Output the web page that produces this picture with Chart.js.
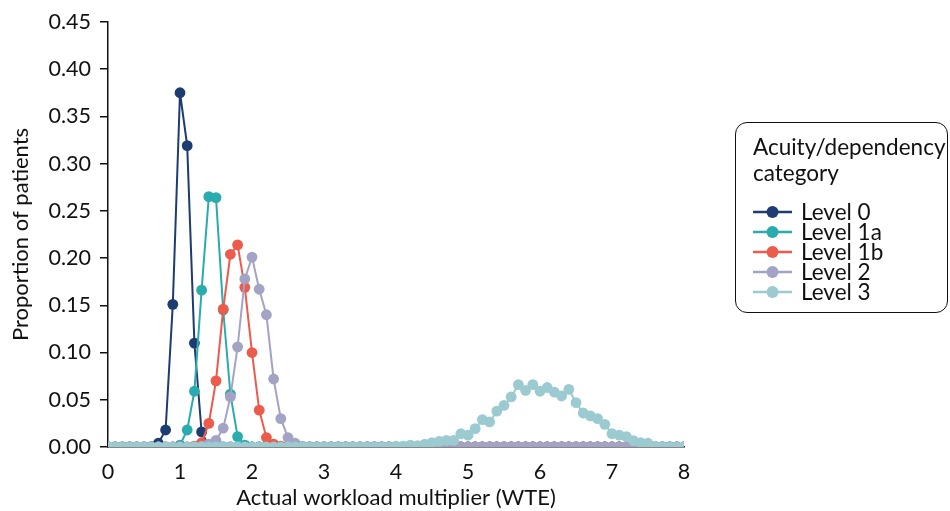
<!DOCTYPE html>
<html>
<head>
<meta charset="utf-8">
<script src="https://cdn.jsdelivr.net/npm/chart.js@4/dist/chart.umd.min.js"></script>
<style>
  html, body { margin: 0; padding: 0; background: #fff; }
  #wrap { position: relative; width: 950px; height: 511px; font-family: Lato, "DejaVu Sans", sans-serif; }
  #c { position: absolute; left: 0; top: 0; }
  #legend {
    position: absolute; left: 735px; top: 122px; width: 213px; height: 191px;
    border: 1.6px solid #111; border-radius: 12px; box-sizing: border-box;
    padding: 11px 0 0 17px; color: #111; font-size: 22.5px;
  }
  #legend .title { line-height: 26px; white-space: nowrap; }
  #legend .items { margin-top: 16px; }
  #legend .item { display: flex; align-items: center; height: 20px; line-height: 20px; white-space: nowrap; }
  #legend svg { margin-right: 9px; flex: none; }
</style>
</head>
<body>
<div id="wrap">
  <canvas id="c" width="950" height="511"></canvas>
  <div id="legend"></div>
</div>
<script>
// Categories: actual workload multiplier (WTE)
const xValues = [
  0.0, 0.1, 0.2, 0.3, 0.4, 0.5, 0.6, 0.7, 0.8, 0.9,
  1.0, 1.1, 1.2, 1.3, 1.4, 1.5, 1.6, 1.7, 1.8, 1.9,
  2.0, 2.1, 2.2, 2.3, 2.4, 2.5, 2.6, 2.7, 2.8, 2.9,
  3.0, 3.1, 3.2, 3.3, 3.4, 3.5, 3.6, 3.7, 3.8, 3.9,
  4.0, 4.1, 4.2, 4.3, 4.4, 4.5, 4.6, 4.7, 4.8, 4.9,
  5.0, 5.1, 5.2, 5.3, 5.4, 5.5, 5.6, 5.7, 5.8, 5.9,
  6.0, 6.1, 6.2, 6.3, 6.4, 6.5, 6.6, 6.7, 6.8, 6.9,
  7.0, 7.1, 7.2, 7.3, 7.4, 7.5, 7.6, 7.7, 7.8, 7.9,
  8.0
];

const level0 = [
  0, 0, 0, 0, 0, 0, 0.0005, 0.004, 0.018, 0.151,
  0.375, 0.319, 0.110, 0.016, 0.001, 0, 0, 0, 0, 0,
  0, 0, 0, 0, 0, 0, 0, 0, 0, 0,
  0, 0, 0, 0, 0, 0, 0, 0, 0, 0,
  0, 0, 0, 0, 0, 0, 0, 0, 0, 0,
  0, 0, 0, 0, 0, 0, 0, 0, 0, 0,
  0, 0, 0, 0, 0, 0, 0, 0, 0, 0,
  0, 0, 0, 0, 0, 0, 0, 0, 0, 0,
  0
];

const level1a = [
  0, 0, 0, 0, 0, 0, 0, 0, 0, 0,
  0.002, 0.018, 0.059, 0.166, 0.265, 0.264, 0.145, 0.056, 0.011, 0.002,
  0, 0, 0, 0, 0, 0, 0, 0, 0, 0,
  0, 0, 0, 0, 0, 0, 0, 0, 0, 0,
  0, 0, 0, 0, 0, 0, 0, 0, 0, 0,
  0, 0, 0, 0, 0, 0, 0, 0, 0, 0,
  0, 0, 0, 0, 0, 0, 0, 0, 0, 0,
  0, 0, 0, 0, 0, 0, 0, 0, 0, 0,
  0
];

const level1b = [
  0, 0, 0, 0, 0, 0, 0, 0, 0, 0,
  0, 0, 0.001, 0.0045, 0.025, 0.070, 0.146, 0.204, 0.214, 0.169,
  0.100, 0.039, 0.010, 0.003, 0.001, 0, 0, 0, 0, 0,
  0, 0, 0, 0, 0, 0, 0, 0, 0, 0,
  0, 0, 0, 0, 0, 0, 0, 0, 0, 0,
  0, 0, 0, 0, 0, 0, 0, 0, 0, 0,
  0, 0, 0, 0, 0, 0, 0, 0, 0, 0,
  0, 0, 0, 0, 0, 0, 0, 0, 0, 0,
  0
];

const level2 = [
  0, 0, 0, 0, 0, 0, 0, 0, 0, 0,
  0, 0, 0, 0.001, 0.003, 0.007, 0.020, 0.053, 0.106, 0.178,
  0.201, 0.167, 0.140, 0.072, 0.030, 0.010, 0.004, 0.001, 0, 0,
  0, 0, 0, 0, 0, 0, 0, 0, 0, 0,
  0, 0, 0, 0, 0, 0, 0, 0, 0, 0,
  0, 0, 0, 0, 0, 0, 0, 0, 0, 0,
  0, 0, 0, 0, 0, 0, 0, 0, 0, 0,
  0, 0, 0, 0, 0, 0, 0, 0, 0, 0,
  0
];

const level3 = [
  0, 0, 0, 0, 0, 0, 0, 0, 0, 0,
  0, 0, 0, 0, 0, 0, 0, 0, 0, 0,
  0, 0, 0, 0, 0, 0, 0, 0, 0, 0,
  0, 0, 0, 0, 0, 0, 0, 0, 0, 0,
  0.001, 0.001, 0.002, 0.0015, 0.003, 0.0045, 0.006, 0.007, 0.007, 0.014,
  0.0125, 0.0195, 0.029, 0.0265, 0.038, 0.044, 0.053, 0.066, 0.060, 0.066,
  0.059, 0.063, 0.058, 0.054, 0.061, 0.047, 0.036, 0.033, 0.030, 0.024,
  0.014, 0.0125, 0.011, 0.0066, 0.0045, 0.004, 0.001, 0, 0, 0,
  0
];

const seriesNames = ['Level 0', 'Level 1a', 'Level 1b', 'Level 2', 'Level 3'];
const seriesData = [level0, level1a, level1b, level2, level3];
const seriesColors = ['#1d3c72', '#2aabad', '#ec5b4b', '#a3a3c5', '#9bcbd1'];

const yTicks = [0, 0.05, 0.10, 0.15, 0.20, 0.25, 0.30, 0.35, 0.40, 0.45];
const xTicks = [0, 1, 2, 3, 4, 5, 6, 7, 8];

const FONT = 'Lato';
const TXT = '#111';

const datasets = seriesNames.map((name, i) => ({
  label: name,
  data: xValues.map((x, j) => ({ x: x, y: seriesData[i][j] })),
  borderColor: seriesColors[i],
  backgroundColor: seriesColors[i],
  pointBackgroundColor: seriesColors[i],
  pointBorderColor: seriesColors[i],
  borderWidth: 2,
  pointRadius: 5.4,
  pointHoverRadius: 5.4,
  pointBorderWidth: 0,
  tension: 0,
  order: seriesNames.length - i
}));

new Chart(document.getElementById('c'), {
  type: 'line',
  data: { datasets },
  options: {
    responsive: false,
    animation: false,
    events: [],
    layout: { padding: { left: 0, right: 266, top: 17, bottom: 0 } },
    plugins: { legend: { display: false }, tooltip: { enabled: false } },
    scales: {
      x: {
        type: 'linear', min: 0, max: 8,
        afterBuildTicks: (s) => { s.ticks = xTicks.map(v => ({ value: v })); },
        afterFit: (s) => { s.height = 64; },
        ticks: { font: { family: FONT, size: 21.5 }, color: TXT, padding: 4,
                 callback: (v) => String(v) },
        grid: { display: false },
        border: { display: true, color: '#111', width: 1.5 },
        title: { display: true, text: 'Actual workload multiplier (WTE)',
                 font: { family: FONT, size: 22 }, color: TXT, padding: { top: 0, bottom: 0 } }
      },
      y: {
        type: 'linear', min: 0, max: 0.45,
        afterBuildTicks: (s) => { s.ticks = yTicks.map(v => ({ value: v })); },
        afterFit: (s) => { s.width = 108; },
        ticks: { font: { family: FONT, size: 21.5 }, color: TXT, padding: 9,
                 callback: (v) => Number(v).toFixed(2) },
        grid: { drawOnChartArea: false, drawTicks: true, tickLength: 8, color: '#111', lineWidth: 1.5 },
        border: { display: true, color: '#111', width: 1.5 },
        title: { display: true, text: 'Proportion of patients',
                 font: { family: FONT, size: 22 }, color: TXT, padding: { top: 8, bottom: 0 } }
      }
    }
  }
});

// HTML legend
const lg = document.getElementById('legend');
let html = '<div class="title">Acuity/dependency<br>category</div><div class="items">';
seriesNames.forEach((n, i) => {
  const c = seriesColors[i];
  html += '<div class="item"><svg width="39" height="14" viewBox="0 0 39 14">' +
    '<line x1="0" y1="7" x2="39" y2="7" stroke="' + c + '" stroke-width="2.5"/>' +
    '<circle cx="19.5" cy="7" r="6" fill="' + c + '"/></svg><span>' + n + '</span></div>';
});
html += '</div>';
lg.innerHTML = html;
</script>
</body>
</html>
